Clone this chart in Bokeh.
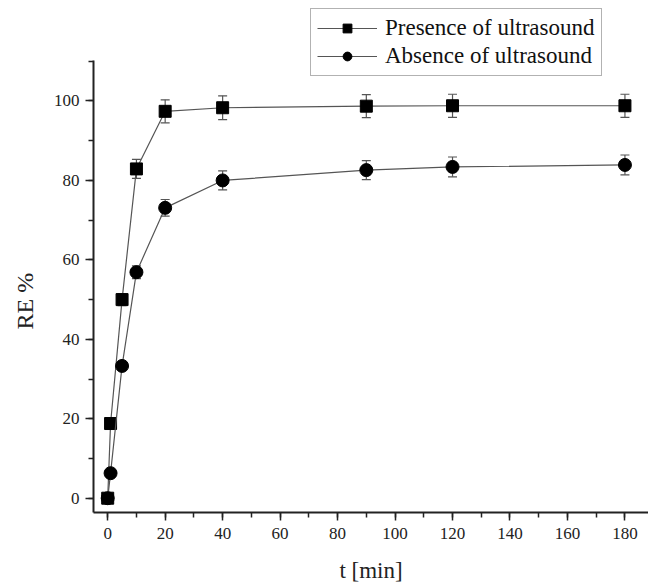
from bokeh.plotting import figure
from bokeh.models import ColumnDataSource, Whisker, TeeHead, Legend, LegendItem, FixedTicker, Range1d, Title
from bokeh.embed import file_html
from bokeh.resources import INLINE

# Data
t = [0, 1, 5, 10, 20, 40, 90, 120, 180]
presence = [0, 18.8, 50.0, 82.9, 97.4, 98.3, 98.7, 98.8, 98.8]
presence_err = [0.5, 1.0, 1.5, 2.4, 2.9, 3.0, 2.9, 2.9, 2.9]
absence = [0, 6.3, 33.3, 56.9, 73.1, 80.0, 82.6, 83.4, 83.9]
absence_err = [0.5, 0.8, 1.0, 1.6, 2.1, 2.4, 2.4, 2.5, 2.5]

x_ticks = [0, 20, 40, 60, 80, 100, 120, 140, 160, 180]
y_ticks = [0, 20, 40, 60, 80, 100]

FONT = "'Liberation Serif'"

p = figure(width=648, height=585, output_backend="svg", toolbar_location=None,
           x_range=Range1d(-4.94, 188.2), y_range=Range1d(-3.6, 125.3),
           min_border_left=93, min_border_right=0, min_border_top=0, min_border_bottom=72)
p.outline_line_color = None
p.grid.visible = False
p.background_fill_color = "white"
p.border_fill_color = "white"

for ax in (p.xaxis[0], p.yaxis[0]):
    ax.axis_line_width = 2
    ax.axis_line_color = "#222222"
    ax.major_tick_line_color = "#222222"
    ax.minor_tick_line_color = "#222222"
    ax.major_tick_line_width = 1.5
    ax.minor_tick_line_width = 1.5
    ax.major_tick_in = 0
    ax.major_tick_out = 8
    ax.minor_tick_in = 0
    ax.minor_tick_out = 5
    ax.major_label_text_font = FONT
    ax.major_label_text_font_size = "17px"
    ax.major_label_text_color = "#222222"
    ax.axis_label_text_font = FONT
    ax.axis_label_text_font_size = "23px"
    ax.axis_label_text_font_style = "normal"
    ax.axis_label_text_color = "#222222"

p.yaxis.bounds = (-3.6, 110.2)
p.xaxis.ticker = FixedTicker(ticks=x_ticks, minor_ticks=list(range(0, 190, 10)))
p.yaxis.ticker = FixedTicker(ticks=y_ticks, minor_ticks=list(range(0, 111, 10)))
p.xaxis.axis_label = "t [min]"
p.xaxis.major_label_standoff = 7
p.yaxis.major_label_standoff = 6
p.xaxis.axis_label_standoff = 16

ylab = Title(text="RE %", align="left", offset=183, vertical_align="top",
             text_font=FONT, text_font_size="24px", text_font_style="normal",
             text_color="#222222", standoff=22)
p.add_layout(ylab, "left")

src_p = ColumnDataSource(dict(t=t, y=presence,
                              lo=[v - e for v, e in zip(presence, presence_err)],
                              hi=[v + e for v, e in zip(presence, presence_err)]))
src_a = ColumnDataSource(dict(t=t, y=absence,
                              lo=[v - e for v, e in zip(absence, absence_err)],
                              hi=[v + e for v, e in zip(absence, absence_err)]))

for src in (src_p, src_a):
    w = Whisker(source=src, base="t", lower="lo", upper="hi",
                line_color="#555555", line_width=1.2,
                lower_head=TeeHead(size=9, line_color="#555555", line_width=1.2),
                upper_head=TeeHead(size=9, line_color="#555555", line_width=1.2))
    p.add_layout(w)

lp = p.line("t", "y", source=src_p, line_color="#555555", line_width=1.2)
sp = p.scatter("t", "y", source=src_p, marker="square", size=12, fill_color="black", line_color="black")
la = p.line("t", "y", source=src_a, line_color="#555555", line_width=1.2)
sa = p.scatter("t", "y", source=src_a, marker="circle", size=13, fill_color="black", line_color="black")

legend = Legend(items=[LegendItem(label="Presence of ultrasound", renderers=[lp, sp]),
                       LegendItem(label="Absence of ultrasound", renderers=[la, sa])],
                location=(217, 436))
legend.label_text_font = FONT
legend.label_text_font_size = "23px"
legend.label_text_color = "#111111"
legend.glyph_width = 60
legend.glyph_height = 22
legend.label_height = 22
legend.label_standoff = 8
legend.spacing = 2
legend.padding = 6
legend.margin = 0
legend.border_line_color = "#666666"
legend.border_line_width = 1
legend.background_fill_color = "white"
legend.background_fill_alpha = 1
p.add_layout(legend, "center")

open("out.html", "w").write(file_html(p, INLINE))
